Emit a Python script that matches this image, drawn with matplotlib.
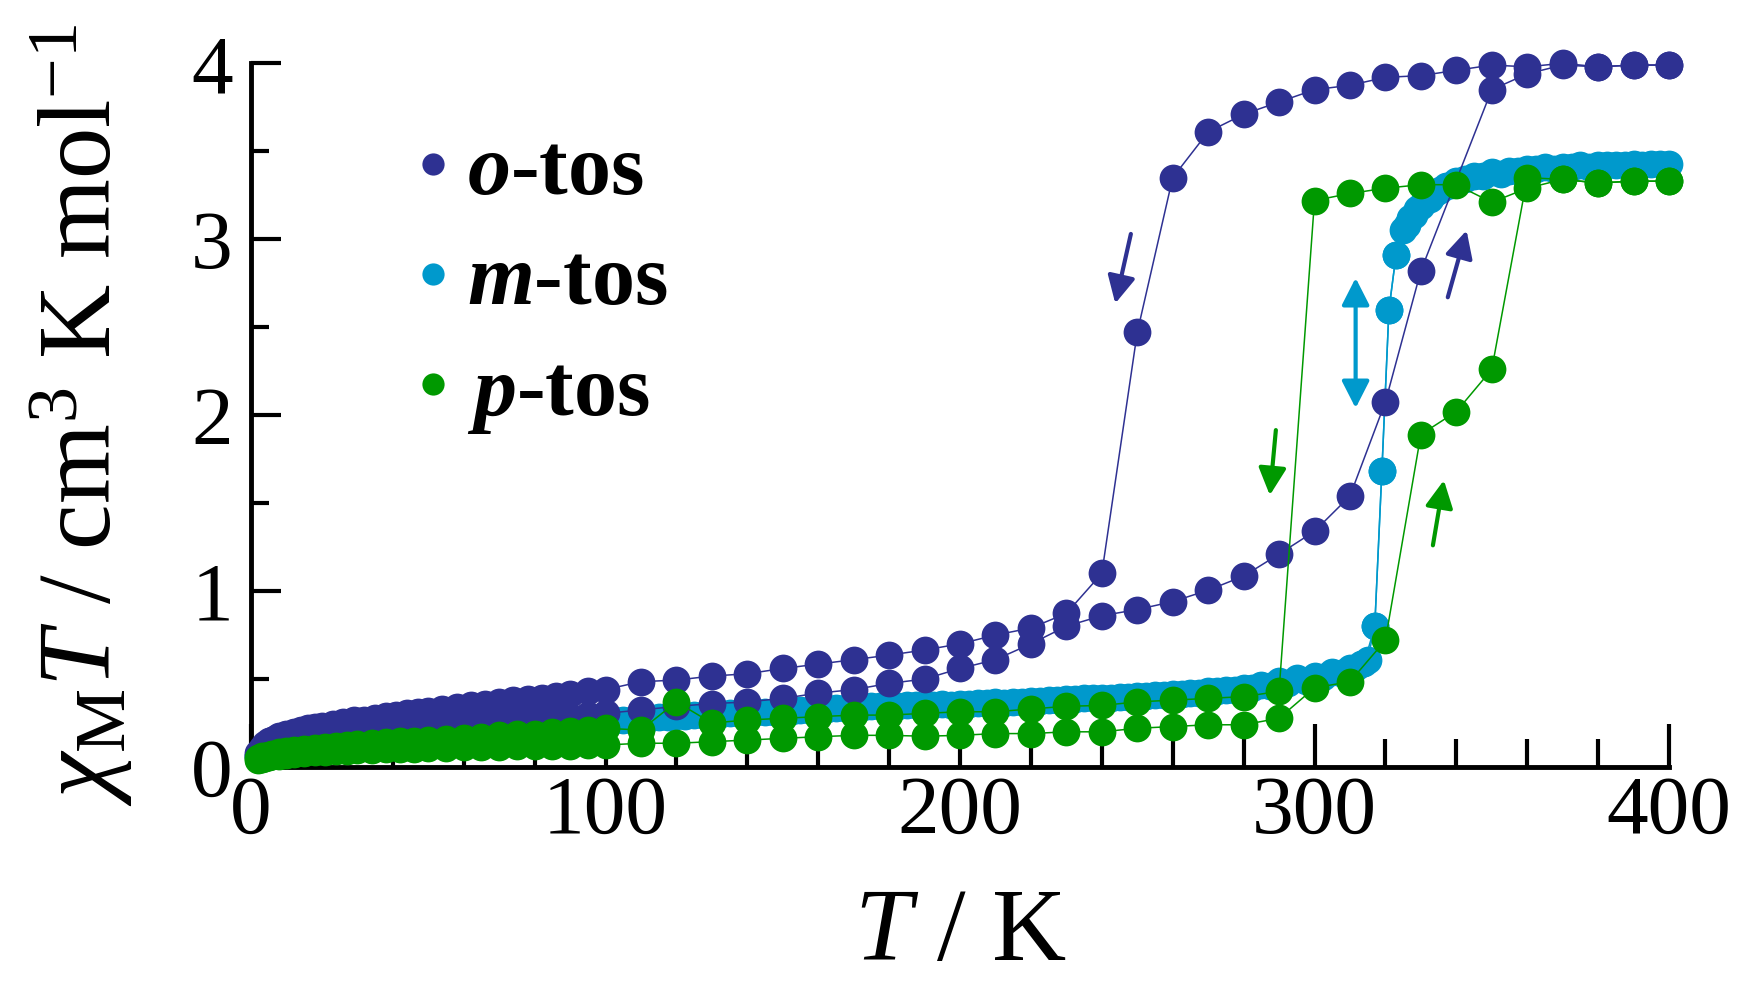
import matplotlib
matplotlib.use('Agg')
import matplotlib.pyplot as plt
from matplotlib.lines import Line2D
from matplotlib.ticker import MultipleLocator

# ---------------- data ----------------
# o-tos, cooling branch
o_cool_T = [2, 3, 4, 5, 6, 7, 8, 10, 12, 14, 16, 18, 20, 23, 26, 29, 32, 35, 38, 41,
            44, 47, 50, 54, 58, 62, 66, 70, 74, 78, 82, 86, 90, 95, 100,
            110, 120, 130, 140, 150, 160, 170, 180, 190, 200,
            210, 220, 230, 240, 250, 260, 270, 280, 290, 300,
            310, 320, 330, 340, 350, 360, 370, 380, 390, 400]
o_cool = [0.08, 0.11, 0.13, 0.145, 0.155, 0.165, 0.175, 0.19, 0.20, 0.21,
          0.22, 0.23, 0.235, 0.245, 0.255, 0.265, 0.27, 0.28, 0.29, 0.295,
          0.305, 0.31, 0.32, 0.33, 0.34, 0.35, 0.36, 0.37, 0.38, 0.385,
          0.395, 0.405, 0.415, 0.43, 0.44,
          0.485, 0.494, 0.517, 0.53, 0.56, 0.585, 0.61, 0.636, 0.665, 0.70,
          0.75, 0.79, 0.873, 1.10, 2.47, 3.35, 3.61, 3.71, 3.78, 3.85,
          3.875, 3.92, 3.93, 3.96, 3.99, 3.98, 4.00, 3.98, 3.99, 3.99]

# o-tos, heating branch
o_heat_T = [2, 3, 4, 5, 6, 7, 8, 10, 12, 14, 16, 18, 20, 23, 26, 29, 32, 35, 38, 41,
            44, 47, 50, 54, 58, 62, 66, 70, 74, 78, 82, 86, 90, 95, 100,
            110, 120, 130, 140, 150, 160, 170, 180, 190, 200,
            210, 220, 230, 240, 250, 260, 270, 280, 290, 300,
            310, 320, 330, 350, 360, 370, 380, 390, 400]
o_heat = [0.06, 0.08, 0.095, 0.105, 0.115, 0.12, 0.13, 0.14, 0.15, 0.16,
          0.17, 0.175, 0.18, 0.19, 0.195, 0.20, 0.205, 0.21, 0.215, 0.22,
          0.225, 0.23, 0.235, 0.24, 0.245, 0.25, 0.255, 0.26, 0.265, 0.27,
          0.275, 0.28, 0.285, 0.295, 0.305,
          0.324, 0.345, 0.36, 0.37, 0.39, 0.42, 0.44, 0.475, 0.50, 0.56,
          0.61, 0.70, 0.80, 0.86, 0.895, 0.94, 1.005, 1.085, 1.21, 1.34,
          1.54, 2.075, 2.82, 3.85, 3.94, 3.99, 3.98, 3.99, 3.99]

# m-tos, heating branch
m_heat_T = [2, 5, 10, 15, 20, 25, 30, 35, 40, 45,
            50, 55, 60, 65, 70, 75, 80, 85, 90, 95,
            100, 105, 110, 115, 120, 125, 130, 135, 140, 145,
            150, 155, 160, 165, 170, 175, 180, 185, 190, 195,
            200, 205, 210, 215, 220, 225, 230, 235, 240, 245,
            250, 255, 260, 265, 270, 275, 280, 285, 290, 295,
            300, 305, 310, 313, 315, 317, 319, 321, 323, 325,
            327, 329, 331, 334, 337, 340, 345, 350, 355, 360,
            365, 370, 375, 380, 385, 390, 395, 400]
m_heat = [0.06, 0.10, 0.13, 0.15, 0.165, 0.175, 0.185, 0.19, 0.20, 0.205,
          0.21, 0.215, 0.22, 0.225, 0.23, 0.24, 0.245, 0.25, 0.255, 0.26,
          0.265, 0.27, 0.28, 0.285, 0.29, 0.295, 0.30, 0.305, 0.31, 0.315,
          0.32, 0.325, 0.33, 0.335, 0.34, 0.345, 0.35, 0.35, 0.355, 0.36,
          0.36, 0.365, 0.37, 0.37, 0.375, 0.38, 0.385, 0.39, 0.395, 0.40,
          0.405, 0.41, 0.415, 0.42, 0.43, 0.44, 0.45, 0.465, 0.49, 0.505,
          0.52, 0.54, 0.565, 0.585, 0.61, 0.80, 1.68, 2.60, 2.91, 3.05,
          3.12, 3.17, 3.21, 3.26, 3.30, 3.33, 3.36, 3.38, 3.39, 3.40,
          3.41, 3.41, 3.42, 3.42, 3.42, 3.43, 3.43, 3.43]

# m-tos, cooling branch (passes through the same steep step)
m_cool_T = [3.5, 7.5, 12.5, 17.5, 22.5, 27.5, 32.5, 37.5, 42.5, 47.5,
            52.5, 57.5, 62.5, 67.5, 72.5, 77.5, 82.5, 87.5, 92.5, 97.5,
            102.5, 107.5, 112.5, 117.5, 122.5, 127.5, 132.5, 137.5, 142.5, 147.5,
            152.5, 157.5, 162.5, 167.5, 172.5, 177.5, 182.5, 187.5, 192.5, 197.5,
            202.5, 207.5, 212.5, 217.5, 222.5, 227.5, 232.5, 237.5, 242.5, 247.5,
            252.5, 257.5, 262.5, 267.5, 272.5, 277.5, 282.5, 287.5, 292.5, 297.5,
            302.5, 307.5, 311.5, 314, 317, 319, 321, 323,
            326, 328, 330, 332.5, 335.5, 338.5,
            342.5, 347.5, 352.5, 357.5, 362.5, 367.5, 372.5, 377.5, 382.5, 387.5,
            392.5, 397.5]
m_cool = [0.08, 0.115, 0.14, 0.155, 0.17, 0.18, 0.185, 0.195, 0.20, 0.205,
          0.21, 0.215, 0.22, 0.23, 0.235, 0.24, 0.245, 0.25, 0.255, 0.26,
          0.265, 0.27, 0.28, 0.285, 0.29, 0.295, 0.30, 0.305, 0.31, 0.315,
          0.32, 0.325, 0.33, 0.335, 0.34, 0.345, 0.345, 0.35, 0.355, 0.355,
          0.36, 0.365, 0.365, 0.37, 0.375, 0.38, 0.385, 0.39, 0.395, 0.40,
          0.405, 0.41, 0.415, 0.42, 0.43, 0.44, 0.45, 0.46, 0.475, 0.49,
          0.51, 0.535, 0.56, 0.59, 0.80, 1.68, 2.60, 2.91,
          3.08, 3.14, 3.19, 3.23, 3.28, 3.31,
          3.34, 3.36, 3.37, 3.39, 3.40, 3.40, 3.41, 3.41, 3.42, 3.42,
          3.42, 3.43]

# p-tos, cooling branch
p_cool_T = [2, 3, 4, 5, 6, 8, 10, 12, 15, 18, 21, 24, 27, 30, 34, 38, 42, 46, 50,
            55, 60, 65, 70, 75, 80, 85, 90, 95, 100,
            110, 120, 130, 140, 150, 160, 170, 180, 190, 200,
            210, 220, 230, 240, 250, 260, 270, 280, 290, 300,
            310, 320, 330, 340, 350, 360, 370, 380, 390, 400]
p_cool = [0.05, 0.06, 0.065, 0.07, 0.075, 0.085, 0.09, 0.095, 0.10, 0.11,
          0.115, 0.12, 0.125, 0.13, 0.135, 0.14, 0.145, 0.15, 0.155,
          0.16, 0.165, 0.17, 0.18, 0.185, 0.19, 0.20, 0.205, 0.21, 0.22,
          0.21, 0.37, 0.25, 0.267, 0.277, 0.286, 0.295, 0.295, 0.305, 0.314,
          0.314, 0.33, 0.345, 0.35, 0.37, 0.38, 0.39, 0.40, 0.43, 3.22,
          3.26, 3.29, 3.31, 3.31, 3.21, 3.29, 3.34, 3.32, 3.33, 3.33]

# p-tos, heating branch
p_heat_T = p_cool_T
p_heat = [0.04, 0.045, 0.05, 0.055, 0.06, 0.065, 0.07, 0.075, 0.08, 0.085,
          0.088, 0.09, 0.092, 0.095, 0.097, 0.10, 0.102, 0.105, 0.107,
          0.11, 0.112, 0.114, 0.116, 0.118, 0.12, 0.121, 0.122, 0.124, 0.125,
          0.135, 0.135, 0.144, 0.153, 0.163, 0.172, 0.18, 0.18, 0.175, 0.18,
          0.19, 0.19, 0.20, 0.20, 0.22, 0.23, 0.24, 0.24, 0.277, 0.45,
          0.485, 0.72, 1.89, 2.02, 2.26, 3.35, 3.34, 3.32, 3.33, 3.33]

series_labels = ['o', 'm', 'p']
x_ticks = [0, 100, 200, 300, 400]
y_ticks = [0, 1, 2, 3, 4]

# direction arrows: (tail T, tail value, tip T, tip value, series, double-headed)
arrows = [
    (248.2, 3.03, 243.8, 2.635, 'o', False),
    (337.6, 2.67, 342.9, 3.05, 'o', False),
    (311.6, 2.04, 311.6, 2.78, 'm', True),
    (289.1, 1.915, 287.4, 1.545, 'p', False),
    (333.4, 1.26, 336.5, 1.63, 'p', False),
]

# ---------------- style ----------------
colors = {'o': '#2E3192', 'm': '#0099CC', 'p': '#009900'}

plt.rcParams['font.family'] = ['Liberation Serif', 'DejaVu Serif']
plt.rcParams['mathtext.fontset'] = 'custom'
plt.rcParams['mathtext.rm'] = 'Liberation Serif'
plt.rcParams['mathtext.it'] = 'Liberation Serif:italic'
plt.rcParams['mathtext.bf'] = 'Liberation Serif:bold:italic'

fig = plt.figure(figsize=(17.48, 9.91), dpi=100)
ax = fig.add_axes([251 / 1748, 224 / 991, 1418 / 1748, 703.7 / 991])

MS = 20
LW = 1.1
for T, v, key, z in [(m_heat_T, m_heat, 'm', 2), (m_cool_T, m_cool, 'm', 2),
                     (o_heat_T, o_heat, 'o', 3), (o_cool_T, o_cool, 'o', 3),
                     (p_heat_T, p_heat, 'p', 4), (p_cool_T, p_cool, 'p', 4)]:
    ax.plot(T, v, '-', color=colors[key], lw=LW, zorder=z, clip_on=False)
    ax.plot(T, v, 'o', color=colors[key], ms=MS, mew=0, zorder=z + 0.1, clip_on=False)

for t0, v0, t1, v1, key, double in arrows:
    style = '<|-|>' if double else '-|>'
    ax.annotate('', xy=(t1, v1), xytext=(t0, v0),
                arrowprops=dict(arrowstyle=style + ',head_length=0.55,head_width=0.28',
                                mutation_scale=30, lw=3, color=colors[key],
                                shrinkA=0, shrinkB=0), zorder=6)

handles = [Line2D([], [], ls='none', marker='o', ms=16, mew=0, color=colors[k])
           for k in series_labels]
labels = [r'$\mathbf{%s}$-tos' % k for k in series_labels]
ax.legend(handles, labels, loc='upper left', bbox_to_anchor=(0.119, 0.90),
          frameon=False, prop={'family': 'Liberation Serif', 'weight': 'bold', 'size': 62},
          handlelength=0.3, handletextpad=0.25, labelspacing=0.36,
          borderpad=0, borderaxespad=0)

ax.set_xlim(0, 400)
ax.set_ylim(0, 4)
ax.set_xticks(x_ticks)
ax.set_yticks(y_ticks)
ax.xaxis.set_minor_locator(MultipleLocator(20))
ax.yaxis.set_minor_locator(MultipleLocator(0.5))

for s in ['top', 'right']:
    ax.spines[s].set_visible(False)
for s in ['left', 'bottom']:
    ax.spines[s].set_linewidth(3.5)

ax.tick_params(axis='x', which='major', direction='in', length=31, width=3,
               labelsize=60, pad=6)
ax.tick_params(axis='x', which='minor', direction='in', length=20, width=3)
ax.tick_params(axis='y', which='major', direction='in', length=21.5, width=3,
               labelsize=60, pad=13)
ax.tick_params(axis='y', which='minor', direction='in', length=13, width=3)

ax.set_xlabel(r'$T$ / K', fontsize=74)
ax.xaxis.set_label_coords(0.5, -0.172)
ax.set_ylabel(r'$\chi_{\mathrm{M}}T$ / cm$^3$ K mol$^{-1}$', fontsize=74)
ax.yaxis.set_label_coords(-0.082, 0.5)

fig.savefig('out.png', dpi=100)
